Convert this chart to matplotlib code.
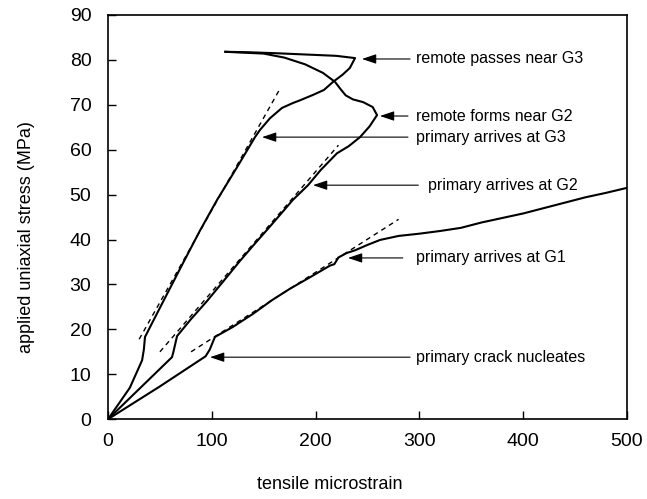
import matplotlib
matplotlib.use('Agg')
import matplotlib.pyplot as plt

# gauge G1 (lowest curve)
g1_strain = [0, 50, 94, 98, 103, 120, 140, 158, 175, 194.6, 213.9, 218, 222, 230, 238, 250, 262,
	280, 300, 320, 340, 360, 380, 400, 420, 440, 460, 480, 500]
g1_stress = [0, 7.3, 14, 15.5, 18.3, 20.5, 23.5, 26.5, 29, 31.6, 34.2, 34.5, 36, 37, 37.6, 38.8, 39.9,
	40.8, 41.3, 41.9, 42.6, 43.8, 44.8, 45.8, 47, 48.2, 49.4, 50.4, 51.5]

# gauge G2 (middle curve)
g2_strain = [0, 61.6, 63, 66.5, 80, 95, 110, 127, 140, 153, 165, 178, 192.7, 205, 220.6,
	232, 242.8, 252, 259.2, 255, 245.7, 236, 229, 224, 218.7, 207.1, 190, 170, 150, 113]
g2_stress = [0, 13.8, 15, 18.5, 22.3, 26.2, 30.4, 35.2, 38.7, 42.1, 45.3, 48.8, 52.1, 55.5, 59.2,
	60.8, 62.8, 65.2, 67.7, 69.5, 70.6, 71.2, 72.1, 73.5, 75.1, 77.1, 79, 80.5, 81.4, 81.8]

# gauge G3 (steepest curve)
g3_strain = [0, 21, 32.8, 34.5, 35.6, 50, 69.4, 88.6, 105, 124.3, 141.6,
	146.4, 156, 167.6, 178.2, 185, 197.5, 208, 216.8, 226, 233, 238, 220, 190, 160, 135, 113]
g3_stress = [0, 7, 13.1, 15.5, 18.3, 24.8, 33.5, 42, 48.8, 56.1, 62.8,
	64.4, 67, 69.3, 70.4, 71.0, 72.2, 73.3, 75.1, 76.7, 78.2, 80.4, 80.9, 81.2, 81.5, 81.7, 81.8]

# dashed linear fits (start, end)
fit_strain = [[80, 280], [50, 222], [30, 166]]
fit_stress = [[15, 44.5], [15, 61], [17.8, 73.7]]

# annotations: label, arrow tip, arrow tail x, text x
notes = ["remote passes near G3", "remote forms near G2", "primary arrives at G3",
	"primary arrives at G2", "primary arrives at G1", "primary crack nucleates"]
tip_x = [244.7, 262, 148.4, 197.5, 231.2, 98.3]
tip_y = [80.2, 67.5, 62.8, 52.1, 35.9, 13.8]
tail_x = [291, 289, 289, 299, 284, 291]
text_x = [297, 297, 297, 308, 297, 297]

plt.rcParams['font.family'] = ['Liberation Sans', 'DejaVu Sans']

fig = plt.figure(figsize=(6.47, 4.99), dpi=100)
ax = fig.add_axes([0.167, 0.160, 0.802, 0.810])

for xs, ys in [(g1_strain, g1_stress), (g2_strain, g2_stress), (g3_strain, g3_stress)]:
	ax.plot(xs, ys, color='black', lw=1.5, solid_joinstyle='round')

for xs, ys in zip(fit_strain, fit_stress):
	ax.plot(xs, ys, color='black', lw=1.0, ls=(0, (3.5, 3)))

for label, tx, ty, sx, lx in zip(notes, tip_x, tip_y, tail_x, text_x):
	ax.annotate('', xy=(tx, ty), xytext=(sx, ty),
		arrowprops=dict(arrowstyle='-|>,head_length=0.86,head_width=0.29', color='black',
			lw=0.8, shrinkA=0, shrinkB=0, mutation_scale=10))
	ax.text(lx, ty, label, fontsize=11.5, va='center', ha='left')

ax.set_xlim(0, 500)
ax.set_ylim(0, 90)
ax.set_xticks(range(0, 501, 100))
ax.set_yticks(range(0, 91, 10))
ax.tick_params(direction='in', length=6, width=1, labelsize=14, pad=10)
ax.tick_params(axis='y', pad=12)
for s in ax.spines.values():
	s.set_linewidth(1.2)

ax.set_xlabel('tensile microstrain', fontsize=13)
ax.xaxis.set_label_coords(0.428, -0.14)
ax.set_ylabel('applied uniaxial stress (MPa)', fontsize=13)
ax.yaxis.set_label_coords(-0.14, 0.45)

fig.savefig('out.png', dpi=100)
